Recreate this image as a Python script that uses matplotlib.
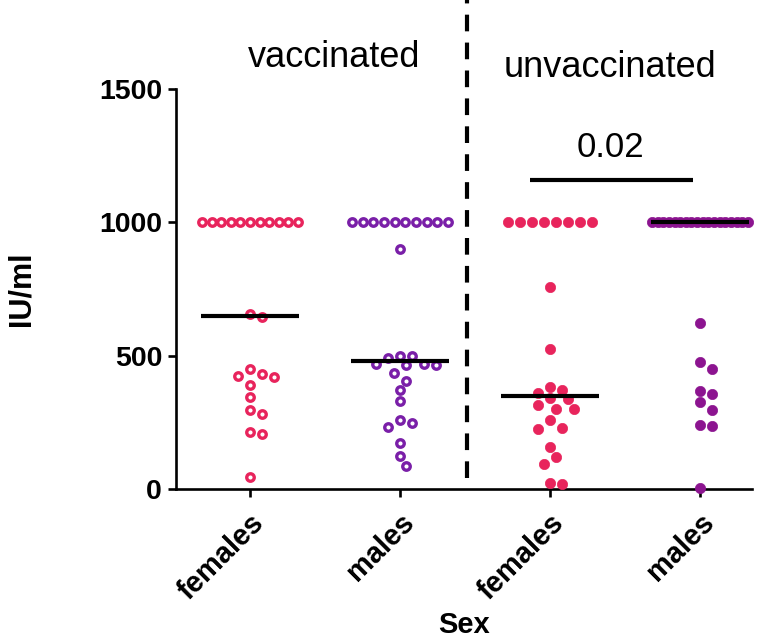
import numpy as np
import matplotlib
matplotlib.use("Agg")
import matplotlib.pyplot as plt

plt.rcParams['font.family'] = ['Liberation Sans', 'DejaVu Sans']

# ---------------- data (IU/ml) ----------------
categories = ["females", "males", "females", "males"]
group_titles = ["vaccinated", "unvaccinated"]

vacc_females = [1000, 1000, 1000, 1000, 1000, 1000, 1000, 1000, 1000, 1000, 1000,
                655, 645, 450, 430, 425, 420, 390, 345, 295, 280, 215, 205, 45]
vacc_males = [1000, 1000, 1000, 1000, 1000, 1000, 1000, 1000, 1000, 1000,
              899, 500, 500, 490, 469, 469, 465, 465, 436, 406, 371, 330,
              259, 246, 234, 171, 125, 87]
unvacc_females = [1000, 1000, 1000, 1000, 1000, 1000, 1000, 1000,
                  756, 524, 381, 371, 359, 340, 336, 315, 300, 299, 259, 229,
                  226, 159, 119, 94, 24, 19]
unvacc_males = [1000, 1000, 1000, 1000, 1000, 1000, 1000, 1000, 1000, 1000,
                1000, 1000, 1000, 1000, 1000, 1000, 1000, 1000,
                624, 477, 449, 367, 355, 325, 296, 239, 236, 5]
p_value_text = "0.02"

series = [vacc_females, vacc_males, unvacc_females, unvacc_males]
colors = ["#e8245c", "#7a1fa8", "#e8245c", "#8c1490"]
filled = [False, False, True, True]

# ---------------- figure ----------------
W, H = 767, 643
fig = plt.figure(figsize=(W / 100, H / 100), dpi=100)
ax_left, ax_bottom_px, ax_w, ax_h = 176, 489, 576, 400
ax = fig.add_axes([ax_left / W, 1 - ax_bottom_px / H, ax_w / W, ax_h / H])
XMIN, XMAX = -0.493, 3.347
YMAX = 1500
ax.set_xlim(XMIN, XMAX)
ax.set_ylim(0, YMAX)

PX_X = ax_w / (XMAX - XMIN)   # pixels per x unit
PX_Y = ax_h / YMAX            # pixels per y unit


def swarm_offsets(vals, D=12.0, max_half=48.0):
    vals = np.asarray(vals, float)
    n = len(vals)
    off = np.full(n, np.nan)
    ypx = vals * PX_Y
    uniq, counts = np.unique(vals, return_counts=True)
    for u, c in zip(uniq, counts):
        if c >= 3:
            idx = np.where(vals == u)[0]
            sp = min(D, 2 * max_half / (c - 1))
            off[idx] = (np.arange(c) - (c - 1) / 2) * sp
    placed = list(np.where(~np.isnan(off))[0])
    cands = [0.0] + [s * j * D / 2 for j in range(1, 30) for s in (1, -1)]
    for i in np.argsort(-vals):
        if not np.isnan(off[i]):
            continue
        for c in cands:
            if all((c - off[p]) ** 2 + (ypx[i] - ypx[p]) ** 2 >= (0.9 * D) ** 2
                   for p in placed):
                off[i] = c
                break
        placed.append(i)
    return off / PX_X


for i, (vals, col, fl) in enumerate(zip(series, colors, filled)):
    xs = i + swarm_offsets(vals)
    if fl:
        ax.plot(xs, vals, ls="none", marker="o", ms=7.4, mfc=col, mec=col,
                mew=0.5, zorder=3, clip_on=False)
    else:
        ax.plot(xs, vals, ls="none", marker="o", ms=5.4, mfc="none", mec=col,
                mew=2.4, zorder=3, clip_on=False)
    med = np.median(vals)
    ax.plot([i - 0.325, i + 0.325], [med, med], color="black", lw=3.0,
            solid_capstyle="butt", zorder=4)

# axes styling
for s in ["top", "right"]:
    ax.spines[s].set_visible(False)
for s in ["left", "bottom"]:
    ax.spines[s].set_linewidth(1.9)
ax.set_yticks([0, 500, 1000, 1500])
ax.set_xticks(range(len(categories)))
ax.set_xticklabels(categories, rotation=45, ha="right", rotation_mode="anchor",
                   fontweight="bold", fontsize=21)
for lab in ax.get_yticklabels():
    lab.set_fontweight("bold")
    lab.set_fontsize(20.5)
ax.tick_params(axis="both", width=1.9, length=6, direction="out")
ax.tick_params(axis="y", pad=4)
ax.tick_params(axis="x", pad=8)

ax.set_ylabel("IU/ml", fontsize=22, fontweight="bold")
ax.yaxis.set_label_coords(-0.243, 0.5)
ax.set_xlabel("Sex", fontsize=21, fontweight="bold")
ax.xaxis.set_label_coords(0.5, -0.305)

# group separator
ax.plot([1.447, 1.447], [41, 1833], color="black", lw=3.0,
        ls=(0, (4, 2.7)), clip_on=False, zorder=5)

# group titles
ax.text(0.56, 1582, group_titles[0], fontsize=26, ha="center", va="baseline")
ax.text(2.4, 1545, group_titles[1], fontsize=26, ha="center", va="baseline")

# significance bar
ax.plot([1.867, 2.953], [1159, 1159], color="black", lw=3.0,
        solid_capstyle="butt", clip_on=False)
ax.text(2.4, 1245, p_value_text, fontsize=25, ha="center", va="baseline")

fig.savefig("out.png", dpi=100, facecolor="white")
